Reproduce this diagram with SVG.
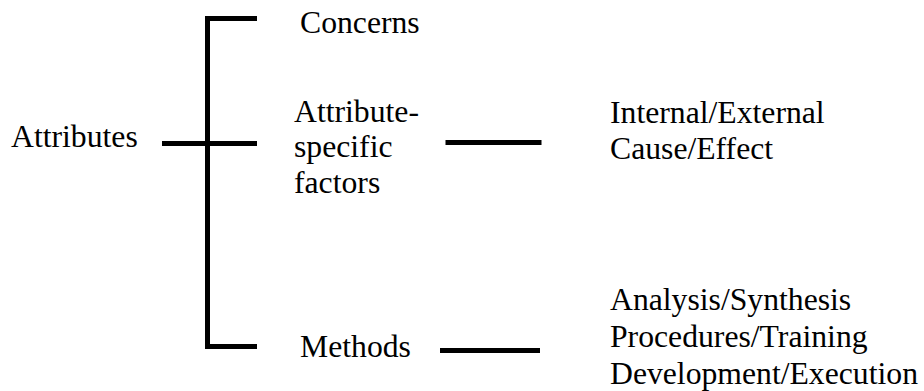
<svg xmlns="http://www.w3.org/2000/svg" width="924" height="391" viewBox="0 0 924 391">
  <style>
    text { font-family: 'Times New Roman', Times, 'Liberation Serif', 'DejaVu Serif', serif; font-size: 31.7px; fill: #000; }
    .wire { fill: none; stroke: #000; stroke-width: 5; stroke-linecap: butt; stroke-linejoin: miter; }
  </style>
  <rect width="924" height="391" fill="#fff"/>

  <g id="connectors">
    <!-- bracket tying the three branches together -->
    <path class="wire" d="M257,18.5 H207.5 V346.5 H257"/>
    <path class="wire" d="M162,143.5 H257"/>
    <!-- branch links to the detail lists -->
    <path class="wire" d="M445.5,142.5 H541.5"/>
    <path class="wire" d="M440,350.5 H540"/>
  </g>

  <g id="attributes">
    <text x="11" y="147">Attributes</text>
  </g>

  <g id="concerns">
    <text x="300" y="33">Concerns</text>
  </g>

  <g id="attribute-specific-factors">
    <text x="294" y="122">Attribute-</text>
    <text x="294" y="157">specific</text>
    <text x="294" y="193">factors</text>
  </g>

  <g id="methods">
    <text x="300" y="357">Methods</text>
  </g>

  <g id="factor-kinds">
    <text x="610" y="123">Internal/External</text>
    <text x="610" y="159">Cause/Effect</text>
  </g>

  <g id="method-kinds">
    <text x="610" y="310">Analysis/Synthesis</text>
    <text x="610" y="347">Procedures/Training</text>
    <text x="610" y="384">Development/Execution</text>
  </g>
</svg>
